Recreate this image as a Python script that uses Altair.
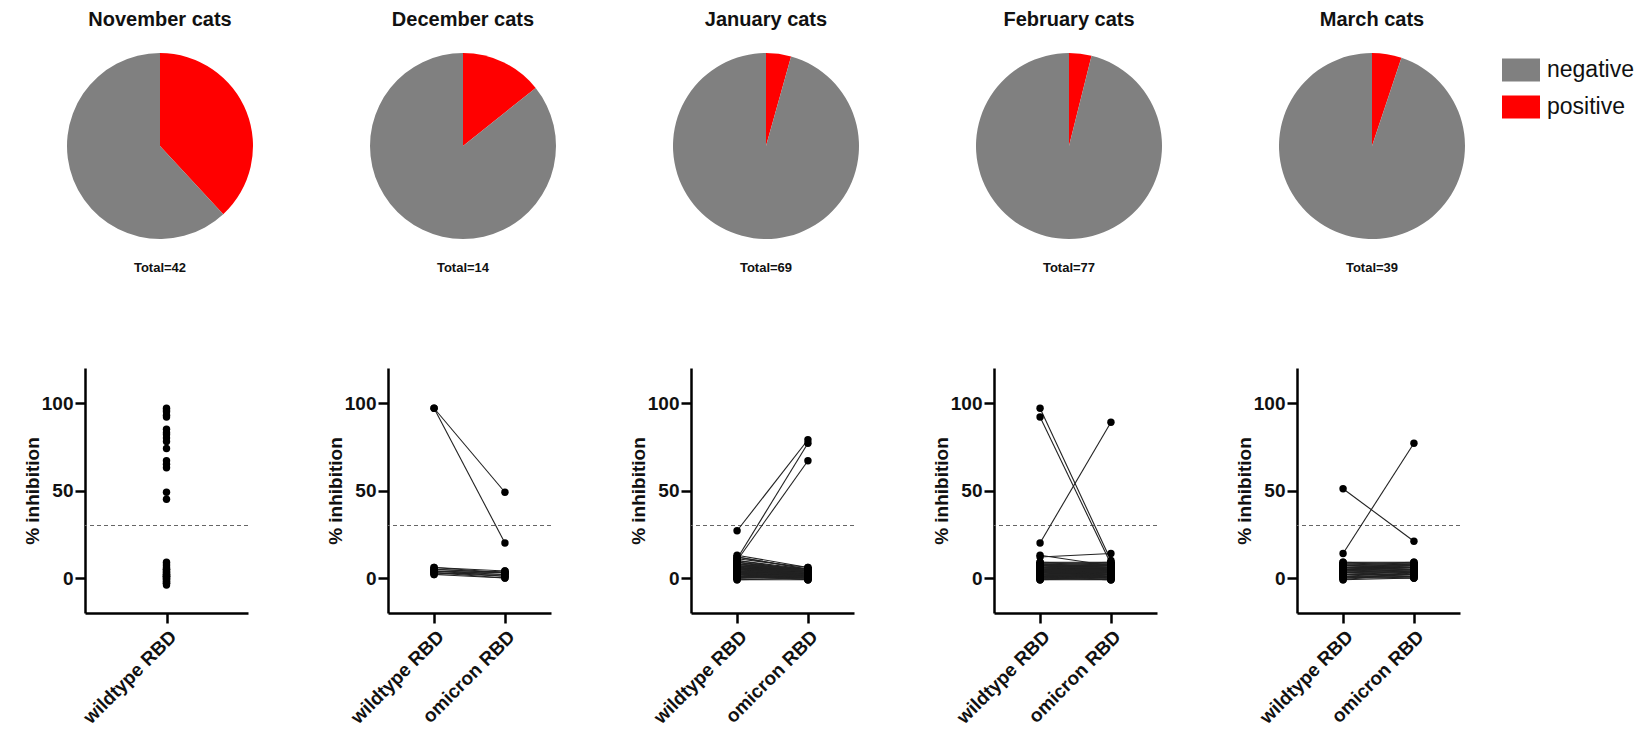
import altair as alt
import pandas as pd

FONT = "Liberation Sans"

# ---------------- pie data ----------------
pie_titles = ["November cats", "December cats", "January cats", "February cats", "March cats"]
positives = [16, 2, 3, 3, 2]
totals = [42, 14, 69, 77, 39]
status_domain = ["negative", "positive"]
status_colors = ["#808080", "#ff0000"]

# ---------------- % inhibition data ----------------
antigens = ["wildtype RBD", "omicron RBD"]
cutoff = [30]

nov_wt = [97, 96, 95, 93, 92, 85, 83, 82, 80, 78, 74, 67, 65, 63, 49, 45,
          -4, -3, -3, -2, -2, -1, -1, 0, 0, 0, 1, 1, 1, 2, 2, 2, 3, 3, 4, 4,
          5, 5, 6, 7, 8, 9]

dec_wt = [97, 97, 6, 5, 5, 4, 4, 4, 3, 3, 3, 2, 2, 6]
dec_om = [49, 20, 4, 3, 3, 2, 1, 3, 1, 0, 2, 0, 4, 3]

jan_wt = [27, 11, 10,
          13, 12, 12, 11, 10, 10, 9, 9, 9, 8,
          8, 8, 8, 7, 7, 7, 7, 7, 6, 6,
          6, 6, 6, 6, 5, 5, 5, 5, 5, 5,
          5, 4, 4, 4, 4, 4, 4, 4, 3, 3,
          3, 3, 3, 3, 2, 2, 2, 2, 2, 2,
          1, 1, 1, 1, 1, 0, 0, 0, 0, 0,
          -1, -1, 2, 3, 4, 6]
jan_om = [79, 77, 67,
          6, 5, 5, 6, 4, 5, 3, 4, 5, 3,
          4, 2, 5, 3, 4, 1, 3, 5, 2, 4,
          3, 1, 4, 2, 3, 5, 2, 4, 1, 3,
          2, 0, 3, 1, 2, 4, 0, 3, 1, 2,
          0, 2, 1, 3, 0, 1, 2, 0, 1, -1,
          0, 1, 2, -1, 0, 1, 3, 2, 0, 1,
          -1, 0, 1, 2, 3, 0]

feb_wt = [97, 92, 20, 13, 12,
          9, 9, 8, 8, 8, 8, 7, 7, 7, 7,
          7, 6, 6, 6, 6, 6, 6, 5, 5, 5,
          5, 5, 5, 5, 5, 4, 4, 4, 4, 4,
          4, 4, 4, 3, 3, 3, 3, 3, 3, 3,
          3, 2, 2, 2, 2, 2, 2, 2, 1, 1,
          1, 1, 1, 1, 1, 0, 0, 0, 0, 0,
          0, -1, -1, -1, 2, 3, 4, 5, 6, 7,
          8, 1]
feb_om = [10, 8, 89, 7, 14,
          8, 9, 7, 8, 6, 9, 7, 5, 8, 6,
          7, 5, 6, 4, 8, 5, 7, 6, 4, 5,
          6, 3, 5, 4, 7, 3, 6, 4, 5, 2,
          4, 3, 5, 2, 6, 3, 4, 1, 5, 3,
          2, 4, 1, 3, 2, 0, 4, 1, 3, 2,
          0, 1, 2, 0, 3, 1, -1, 2, 0, 1,
          -1, 0, 1, -1, 2, 3, 4, 5, 6, 7,
          0, 2]

mar_wt = [51, 14,
          9, 8, 8, 7, 7, 7, 6, 6, 6, 6,
          5, 5, 5, 5, 4, 4, 4, 4, 3, 3,
          3, 3, 2, 2, 2, 1, 1, 1, 0, 0,
          0, -1, -1, 2, 5, 8, 9]
mar_om = [21, 77,
          9, 8, 9, 7, 8, 6, 7, 8, 5, 6,
          7, 4, 5, 6, 3, 5, 4, 6, 2, 4,
          3, 5, 1, 2, 4, 0, 3, 1, 2, 0,
          1, 3, 0, 2, 6, 7, 8]

panel_data = [
    (nov_wt, None),
    (dec_wt, dec_om),
    (jan_wt, jan_om),
    (feb_wt, feb_om),
    (mar_wt, mar_om),
]


def make_pie(i):
    df = pd.DataFrame({
        "status": ["positive", "negative"],
        "count": [positives[i], totals[i] - positives[i]],
        "ord": [0, 1],
    })
    arc = alt.Chart(df).mark_arc(outerRadius=93).encode(
        theta=alt.Theta("count:Q", stack=True),
        color=alt.Color(
            "status:N",
            scale=alt.Scale(domain=status_domain, range=status_colors),
            legend=alt.Legend(
                title=None, orient="none", legendX=1417, legendY=17,
                symbolType="M-1,-0.6L1,-0.6L1,0.6L-1,0.6Z",
                symbolSize=1444, symbolStrokeWidth=0, symbolOpacity=1,
                labelFontSize=23, labelFont=FONT, labelColor="#111",
                labelOffset=7, rowPadding=6,
            ),
        ),
        order=alt.Order("ord:Q"),
    )
    tdf = pd.DataFrame({"label": ["Total=%d" % totals[i]]})
    txt = alt.Chart(tdf).mark_text(
        dy=122, fontSize=13, fontWeight="bold", font=FONT, color="#111"
    ).encode(text="label:N")
    return alt.layer(arc, txt).properties(
        width=150, height=224,
        title=alt.Title(pie_titles[i], fontSize=20, fontWeight="bold", font=FONT,
                        color="#111", offset=4, anchor="middle"),
    )


def make_panel(i):
    wt, om = panel_data[i]
    rows = []
    for k, v in enumerate(wt):
        rows.append({"id": k, "antigen": antigens[0], "value": v})
    if om is not None:
        for k, v in enumerate(om):
            rows.append({"id": k, "antigen": antigens[1], "value": v})
    df = pd.DataFrame(rows)
    dom = antigens if om is not None else antigens[:1]

    x = alt.X("antigen:N", sort=dom,
              scale=alt.Scale(type="point", domain=dom, padding=0.65),
              axis=alt.Axis(title=None, labelAngle=-45, labelFontSize=19,
                            labelFontWeight="bold", labelFont=FONT,
                            labelColor="#111", labelPadding=4))
    y = alt.Y("value:Q",
              scale=alt.Scale(domain=[-20, 120], nice=False, zero=False),
              axis=alt.Axis(values=[0, 50, 100], title="% inhibition",
                            titleFontSize=19, titleFontWeight="bold",
                            titleFont=FONT, titleColor="#111", titlePadding=-1,
                            labelFontSize=19, labelFontWeight="bold",
                            labelFont=FONT, labelColor="#111", labelPadding=2))

    rule = alt.Chart(pd.DataFrame({"cut": cutoff})).mark_rule(
        color="#666", strokeWidth=1.2, strokeDash=[4, 3]
    ).encode(y=alt.Y("cut:Q"))
    layers = [rule]
    if om is not None:
        lines = alt.Chart(df).mark_line(color="#222", strokeWidth=1.1).encode(
            x=x, y=y, detail="id:N")
        layers.append(lines)
    pts = alt.Chart(df).mark_circle(size=55, color="#000", opacity=1).encode(x=x, y=y)
    layers.append(pts)
    return alt.layer(*layers).properties(width=163, height=245)


top = alt.hconcat(*[make_pie(i) for i in range(5)], spacing=117)
bottom = alt.hconcat(*[make_panel(i) for i in range(5)], spacing=77)

chart = alt.vconcat(top, bottom, spacing=93).properties(
    padding={"left": 15, "top": 2, "right": 0, "bottom": 0}
).configure(font=FONT, background="white").configure_view(
    stroke=None
).configure_axis(
    grid=False, domainColor="#000", domainWidth=2.5, tickColor="#000",
    tickWidth=2.5, tickSize=10,
)

chart.save("out.html", embed_options={"renderer": "svg", "actions": False})
